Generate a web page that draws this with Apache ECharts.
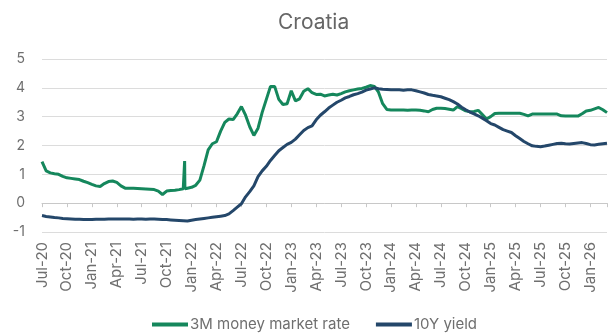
<!DOCTYPE html>
<html>
<head>
<meta charset="utf-8">
<script src="https://cdn.jsdelivr.net/npm/echarts@6/dist/echarts.min.js"></script>
<style>
  html, body { margin: 0; padding: 0; background: #fff; }
  #chart { width: 609px; height: 334px; }
</style>
</head>
<body>
<div id="chart"></div>
<script>
// semi-monthly observations, plus the one-day spike in Dec-21
var dates = [
  '2020-07-01','2020-07-16','2020-08-01','2020-08-16','2020-09-01','2020-09-16','2020-10-01','2020-10-16','2020-11-01','2020-11-16','2020-12-01','2020-12-16',
  '2021-01-01','2021-01-16','2021-02-01','2021-02-16','2021-03-01','2021-03-16','2021-04-01','2021-04-16','2021-05-01','2021-05-16','2021-06-01','2021-06-16',
  '2021-07-01','2021-07-16','2021-08-01','2021-08-16','2021-09-01','2021-09-16','2021-10-01','2021-10-16','2021-11-01','2021-11-16','2021-12-01',
  '2021-12-05','2021-12-06','2021-12-07','2021-12-16',
  '2022-01-01','2022-01-16','2022-02-01','2022-02-16','2022-03-01','2022-03-16','2022-04-01','2022-04-16','2022-05-01','2022-05-16','2022-06-01','2022-06-16',
  '2022-07-01','2022-07-16','2022-08-01','2022-08-16','2022-09-01','2022-09-16','2022-10-01','2022-10-16','2022-11-01','2022-11-16','2022-12-01','2022-12-16',
  '2023-01-01','2023-01-16','2023-02-01','2023-02-16','2023-03-01','2023-03-16','2023-04-01','2023-04-16','2023-05-01','2023-05-16','2023-06-01','2023-06-16',
  '2023-07-01','2023-07-16','2023-08-01','2023-08-16','2023-09-01','2023-09-16','2023-10-01','2023-10-16','2023-11-01','2023-11-16','2023-12-01','2023-12-16',
  '2024-01-01','2024-01-16','2024-02-01','2024-02-16','2024-03-01','2024-03-16','2024-04-01','2024-04-16','2024-05-01','2024-05-16','2024-06-01','2024-06-16',
  '2024-07-01','2024-07-16','2024-08-01','2024-08-16','2024-09-01','2024-09-16','2024-10-01','2024-10-16','2024-11-01','2024-11-16','2024-12-01','2024-12-16',
  '2025-01-01','2025-01-16','2025-02-01','2025-02-16','2025-03-01','2025-03-16','2025-04-01','2025-04-16','2025-05-01','2025-05-16','2025-06-01','2025-06-16',
  '2025-07-01','2025-07-16','2025-08-01','2025-08-16','2025-09-01','2025-09-16','2025-10-01','2025-10-16','2025-11-01','2025-11-16','2025-12-01','2025-12-16',
  '2026-01-01','2026-01-16','2026-02-01','2026-02-16','2026-03-01'
];

var rate3m = [
  1.44,1.12,1.05,1.02,1.00,0.93,0.88,0.86,0.84,0.82,0.76,0.71,
  0.65,0.60,0.58,0.68,0.75,0.77,0.72,0.60,0.52,0.52,0.52,0.51,
  0.50,0.49,0.48,0.47,0.42,0.30,0.42,0.44,0.45,0.47,0.50,
  0.50,1.46,0.50,0.52,
  0.55,0.62,0.80,1.30,1.85,2.06,2.13,2.50,2.80,2.92,2.90,3.10,
  3.35,3.05,2.65,2.35,2.60,3.15,3.60,4.05,4.05,3.60,3.42,3.45,
  3.90,3.55,3.62,3.88,3.97,3.83,3.77,3.78,3.72,3.75,3.78,3.75,
  3.80,3.86,3.90,3.93,3.96,3.98,4.02,4.08,4.05,3.85,3.45,3.25,
  3.23,3.23,3.23,3.23,3.22,3.23,3.23,3.22,3.20,3.17,3.25,3.29,
  3.29,3.28,3.26,3.23,3.35,3.28,3.20,3.17,3.18,3.22,3.07,2.92,
  3.00,3.11,3.12,3.12,3.12,3.12,3.12,3.12,3.08,3.03,3.09,3.09,
  3.09,3.09,3.09,3.09,3.09,3.03,3.02,3.02,3.02,3.02,3.10,3.20,
  3.22,3.27,3.32,3.24,3.14
];

var yield10y = [
  -0.43,-0.46,-0.48,-0.50,-0.51,-0.53,-0.54,-0.55,-0.56,-0.56,-0.57,-0.57,
  -0.57,-0.56,-0.56,-0.56,-0.55,-0.55,-0.55,-0.55,-0.55,-0.55,-0.56,-0.55,
  -0.55,-0.56,-0.55,-0.55,-0.56,-0.57,-0.57,-0.58,-0.59,-0.60,-0.61,
  -0.61,-0.61,-0.61,-0.62,
  -0.59,-0.57,-0.55,-0.53,-0.51,-0.49,-0.47,-0.45,-0.43,-0.37,-0.26,-0.14,
  -0.02,0.22,0.40,0.60,0.92,1.12,1.28,1.48,1.65,1.82,1.93,2.04,
  2.11,2.22,2.37,2.52,2.62,2.68,2.89,3.05,3.17,3.30,3.40,3.50,
  3.57,3.65,3.70,3.76,3.80,3.85,3.92,3.96,4.00,3.97,3.95,3.94,
  3.93,3.93,3.93,3.92,3.93,3.93,3.90,3.86,3.82,3.77,3.74,3.72,
  3.69,3.64,3.59,3.52,3.44,3.33,3.24,3.16,3.10,3.03,2.95,2.86,
  2.76,2.71,2.63,2.55,2.50,2.45,2.34,2.24,2.14,2.06,1.99,1.97,
  1.96,1.98,2.01,2.04,2.07,2.08,2.06,2.05,2.07,2.09,2.10,2.07,
  2.03,2.02,2.04,2.06,2.08
];

var monthNames = ['Jan','Feb','Mar','Apr','May','Jun','Jul','Aug','Sep','Oct','Nov','Dec'];

// months since Jul-20
function toX(d) {
  var p = d.split('-');
  return (+p[0] - 2020) * 12 + (+p[1] - 7) + (+p[2] - 1) / 30;
}

function pairs(vals) {
  return dates.map(function (d, i) { return [toX(d), vals[i]]; });
}

var chart = echarts.init(document.getElementById('chart'));
var gray = '#6f6f6f';
var font = 'Inter, "Noto Sans", sans-serif';

chart.setOption({
  animation: false,
  textStyle: { fontFamily: font },
  title: {
    text: 'Croatia',
    left: 273,
    top: 7,
    textStyle: { fontSize: 21, fontWeight: 'normal', color: '#666', fontFamily: font }
  },
  legend: {
    top: 312,
    left: 147,
    icon: 'rect',
    itemWidth: 36,
    itemHeight: 4,
    itemGap: 26,
    textStyle: { fontSize: 15, color: gray, fontFamily: font, padding: [0, 0, 0, -3] },
    data: ['3M money market rate', '10Y yield']
  },
  grid: { left: 42, right: 2, top: 59, bottom: 102, containLabel: false },
  xAxis: [{
    type: 'value',
    min: 0, max: 68, interval: 3,
    axisLine: { onZero: true, lineStyle: { color: '#c8c8c8', width: 1 } },
    axisTick: { show: true, length: 4, lineStyle: { color: '#c8c8c8' } },
    axisLabel: { show: false },
    splitLine: { show: false }
  }, {
    type: 'value',
    position: 'bottom',
    min: 0, max: 68, interval: 3,
    axisLine: { show: false, onZero: false },
    axisTick: { show: false },
    splitLine: { show: false },
    axisLabel: {
      rotate: 90,
      margin: 10,
      fontSize: 15,
      color: gray,
      showMaxLabel: false,
      formatter: function (v) {
        if (v % 3 !== 0) return '';
        var m = (6 + v) % 12;
        var y = 2020 + Math.floor((6 + v) / 12);
        return monthNames[m] + '-' + String(y).slice(2);
      }
    }
  }],
  yAxis: {
    type: 'value',
    min: -1, max: 5, interval: 1,
    axisLine: { show: false },
    axisTick: { show: false },
    axisLabel: { fontSize: 14, color: gray, margin: 17 },
    splitLine: { lineStyle: { color: '#dcdcdc', width: 1 } }
  },
  series: [{
    name: '3M money market rate',
    type: 'line',
    xAxisIndex: 0,
    data: pairs(rate3m),
    showSymbol: false,
    symbol: 'none',
    color: '#15875c',
    lineStyle: { width: 3, color: '#15875c' }
  }, {
    name: '10Y yield',
    type: 'line',
    xAxisIndex: 0,
    data: pairs(yield10y),
    showSymbol: false,
    symbol: 'none',
    color: '#24476a',
    lineStyle: { width: 3, color: '#24476a' }
  }]
});
</script>
</body>
</html>
